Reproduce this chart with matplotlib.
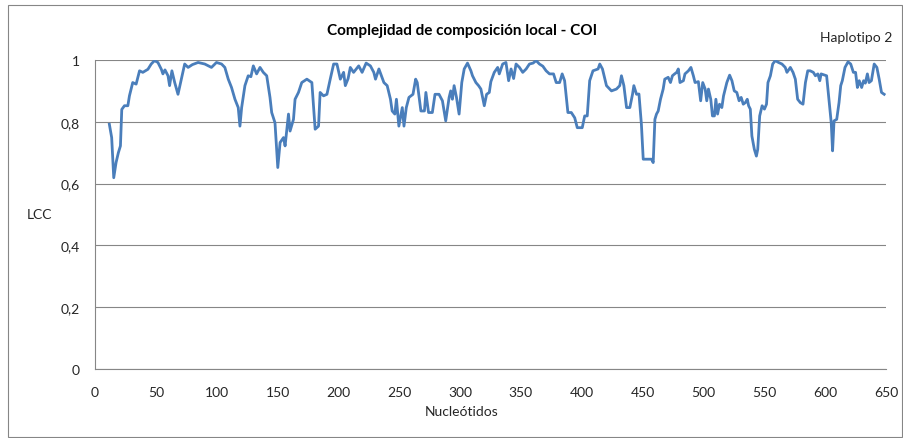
import matplotlib
matplotlib.use("Agg")
from matplotlib import pyplot as plt
from matplotlib.patches import Rectangle

# LCC values (Haplotipo 2, COI)
nucleotidos = [
    11.8, 13.7, 15.4, 17.3, 19.2, 20.9, 22.0, 24.2, 27.0, 28.3,
    31.0, 33.8, 36.6, 39.3, 43.5, 46.2, 48.9, 51.7, 54.5, 55.8,
    57.5, 60.0, 61.3, 63.2, 65.5, 68.2, 70.5, 73.7, 76.5, 80.0,
    84.7, 90.2, 95.7, 99.8, 104.0, 106.7, 109.5, 112.2, 115.0, 117.7,
    119.1, 120.5, 123.2, 125.9, 128.1, 130.1, 132.8, 135.6, 138.3, 141.1,
    143.8, 145.2, 147.9, 150.2, 152.1, 154.9, 156.2, 159.0, 160.3, 163.1,
    164.4, 167.2, 169.9, 174.1, 178.2, 180.9, 183.7, 185.0, 187.8, 190.6,
    193.3, 196.1, 198.8, 201.6, 204.3, 205.7, 208.0, 209.8, 212.5, 216.7,
    219.5, 222.8, 226.3, 229.1, 230.5, 233.3, 237.4, 240.1, 242.8, 244.2,
    246.4, 247.7, 249.7, 252.5, 253.9, 255.8, 258.0, 261.3, 263.5, 264.8,
    267.8, 270.7, 271.9, 274.1, 277.2, 279.4, 282.7, 285.5, 288.2, 291.0,
    292.3, 293.7, 295.1, 297.0, 299.2, 301.4, 303.4, 306.1, 308.9, 310.2,
    313.0, 315.2, 317.1, 319.9, 321.8, 324.0, 325.3, 328.1, 330.9, 332.2,
    335.0, 337.7, 339.9, 341.9, 344.0, 346.0, 348.8, 351.5, 354.3, 357.0,
    360.0, 362.5, 365.2, 368.0, 370.7, 373.5, 376.8, 379.0, 381.8, 383.9,
    385.9, 388.6, 391.4, 394.2, 396.3, 400.4, 402.4, 404.5, 406.5, 409.2,
    413.4, 414.8, 417.0, 420.3, 424.4, 428.5, 431.2, 432.6, 434.6, 436.8,
    439.5, 441.7, 442.8, 445.0, 447.0, 449.0, 450.5, 457.3, 458.7, 460.1,
    461.4, 462.8, 464.7, 466.9, 468.2, 471.0, 472.9, 474.5, 476.3, 478.0,
    479.3, 480.7, 483.5, 484.8, 487.6, 489.7, 491.7, 493.1, 495.8, 497.7,
    499.4, 501.4, 502.7, 504.1, 506.0, 507.4, 509.0, 510.2, 511.6, 513.2,
    515.1, 516.5, 519.2, 521.5, 523.4, 525.3, 527.4, 529.3, 531.0, 532.7,
    534.4, 536.0, 537.1, 538.5, 539.8, 541.8, 543.5, 544.6, 546.2, 548.2,
    550.1, 551.8, 553.0, 555.0, 556.9, 559.0, 561.7, 564.5, 567.2, 568.6,
    571.4, 573.6, 575.5, 577.4, 579.6, 581.8, 583.8, 585.7, 587.7, 590.3,
    592.0, 594.0, 595.6, 596.7, 601.2, 603.1, 605.0, 606.1, 607.3, 609.5,
    611.4, 612.8, 614.1, 616.3, 618.8, 621.0, 623.2, 625.0, 626.5, 628.0,
    630.0, 631.6, 633.0, 634.7, 636.1, 638.0, 640.3, 642.5, 644.4, 646.3,
    648.5,
]
lcc = [
    0.792, 0.749, 0.619, 0.668, 0.700, 0.722, 0.840, 0.852, 0.852, 0.884,
    0.927, 0.922, 0.965, 0.960, 0.970, 0.987, 0.998, 0.992, 0.970, 0.955,
    0.968, 0.949, 0.917, 0.965, 0.927, 0.889, 0.930, 0.987, 0.976, 0.985,
    0.992, 0.987, 0.976, 0.992, 0.987, 0.976, 0.938, 0.911, 0.873, 0.846,
    0.786, 0.846, 0.917, 0.949, 0.946, 0.981, 0.955, 0.976, 0.960, 0.949,
    0.879, 0.830, 0.797, 0.652, 0.733, 0.749, 0.722, 0.825, 0.770, 0.808,
    0.873, 0.895, 0.927, 0.938, 0.927, 0.776, 0.786, 0.895, 0.884, 0.889,
    0.938, 0.987, 0.987, 0.938, 0.960, 0.917, 0.940, 0.976, 0.960, 0.981,
    0.960, 0.990, 0.981, 0.960, 0.938, 0.971, 0.927, 0.917, 0.873, 0.835,
    0.825, 0.873, 0.786, 0.846, 0.786, 0.846, 0.879, 0.889, 0.938, 0.927,
    0.835, 0.835, 0.895, 0.830, 0.830, 0.889, 0.889, 0.868, 0.803, 0.879,
    0.900, 0.873, 0.917, 0.880, 0.825, 0.927, 0.971, 0.990, 0.965, 0.949,
    0.927, 0.917, 0.906, 0.852, 0.889, 0.895, 0.930, 0.960, 0.976, 0.955,
    0.987, 0.992, 0.933, 0.971, 0.940, 0.987, 0.976, 0.960, 0.971, 0.987,
    0.990, 0.998, 0.987, 0.980, 0.965, 0.955, 0.955, 0.927, 0.927, 0.955,
    0.933, 0.830, 0.830, 0.813, 0.781, 0.781, 0.819, 0.819, 0.933, 0.965,
    0.971, 0.987, 0.971, 0.917, 0.900, 0.906, 0.917, 0.949, 0.917, 0.846,
    0.846, 0.889, 0.917, 0.889, 0.890, 0.792, 0.679, 0.679, 0.668, 0.808,
    0.825, 0.835, 0.873, 0.906, 0.938, 0.944, 0.927, 0.949, 0.955, 0.960,
    0.971, 0.927, 0.933, 0.955, 0.965, 0.976, 0.949, 0.927, 0.930, 0.868,
    0.927, 0.906, 0.868, 0.906, 0.873, 0.819, 0.819, 0.873, 0.825, 0.857,
    0.846, 0.884, 0.927, 0.951, 0.933, 0.900, 0.895, 0.868, 0.879, 0.857,
    0.862, 0.873, 0.852, 0.841, 0.754, 0.711, 0.689, 0.711, 0.819, 0.852,
    0.841, 0.857, 0.927, 0.949, 0.987, 0.998, 0.992, 0.987, 0.976, 0.960,
    0.976, 0.960, 0.938, 0.873, 0.862, 0.857, 0.927, 0.965, 0.965, 0.960,
    0.949, 0.955, 0.933, 0.955, 0.949, 0.873, 0.797, 0.706, 0.803, 0.808,
    0.862, 0.917, 0.933, 0.976, 0.994, 0.987, 0.960, 0.960, 0.911, 0.933,
    0.911, 0.933, 0.925, 0.955, 0.927, 0.933, 0.987, 0.976, 0.938, 0.895,
    0.889,
]
x_ticks = list(range(0, 651, 50))
y_ticks = [0, 0.2, 0.4, 0.6, 0.8, 1]
y_labels = ["0", "0,2", "0,4", "0,6", "0,8", "1"]

plt.rcParams["font.family"] = ["Lato", "DejaVu Sans"]
grey = "#868686"
text_col = "#262626"

fig = plt.figure(figsize=(9.04, 4.39), dpi=100)
ax = fig.add_axes([95 / 904, 1 - 370 / 439, 791 / 904, 309 / 439])

ax.plot(nucleotidos, lcc, color="#4A7EBB", linewidth=2.0, solid_joinstyle="round")

ax.set_xlim(0, 650)
ax.set_ylim(0, 1)
ax.set_xticks(x_ticks)
ax.set_xticklabels([str(t) for t in x_ticks])
ax.set_yticks(y_ticks)
ax.set_yticklabels(y_labels)
ax.tick_params(length=0, labelsize=10, colors=text_col, pad=12)
ax.tick_params(axis="y", pad=11)
ax.grid(axis="y", color=grey, linewidth=0.8)
ax.set_axisbelow(True)
for side in ["top", "right"]:
    ax.spines[side].set_visible(False)
for side in ["left", "bottom"]:
    ax.spines[side].set_color(grey)
    ax.spines[side].set_linewidth(0.8)

fig.text(462 / 904, 1 - 31 / 439, "Complejidad de composición local - COI",
         ha="center", va="center", fontsize=11, fontweight="bold", color="black")
fig.text(856 / 904, 1 - 38 / 439, "Haplotipo 2", ha="center", va="center",
         fontsize=10, color=text_col)
fig.text(40 / 904, 1 - 215 / 439, "LCC", ha="center", va="center",
         fontsize=10, color=text_col)
fig.text(462 / 904, 1 - 412 / 439, "Nucleótidos", ha="center", va="center",
         fontsize=10, color=text_col)

# outer chart border
fig.patches.append(Rectangle((8 / 904, 1 / 439), 894 / 904, 432 / 439,
                             transform=fig.transFigure, fill=False,
                             edgecolor=grey, linewidth=0.8))

fig.savefig("out.png", dpi=100)
